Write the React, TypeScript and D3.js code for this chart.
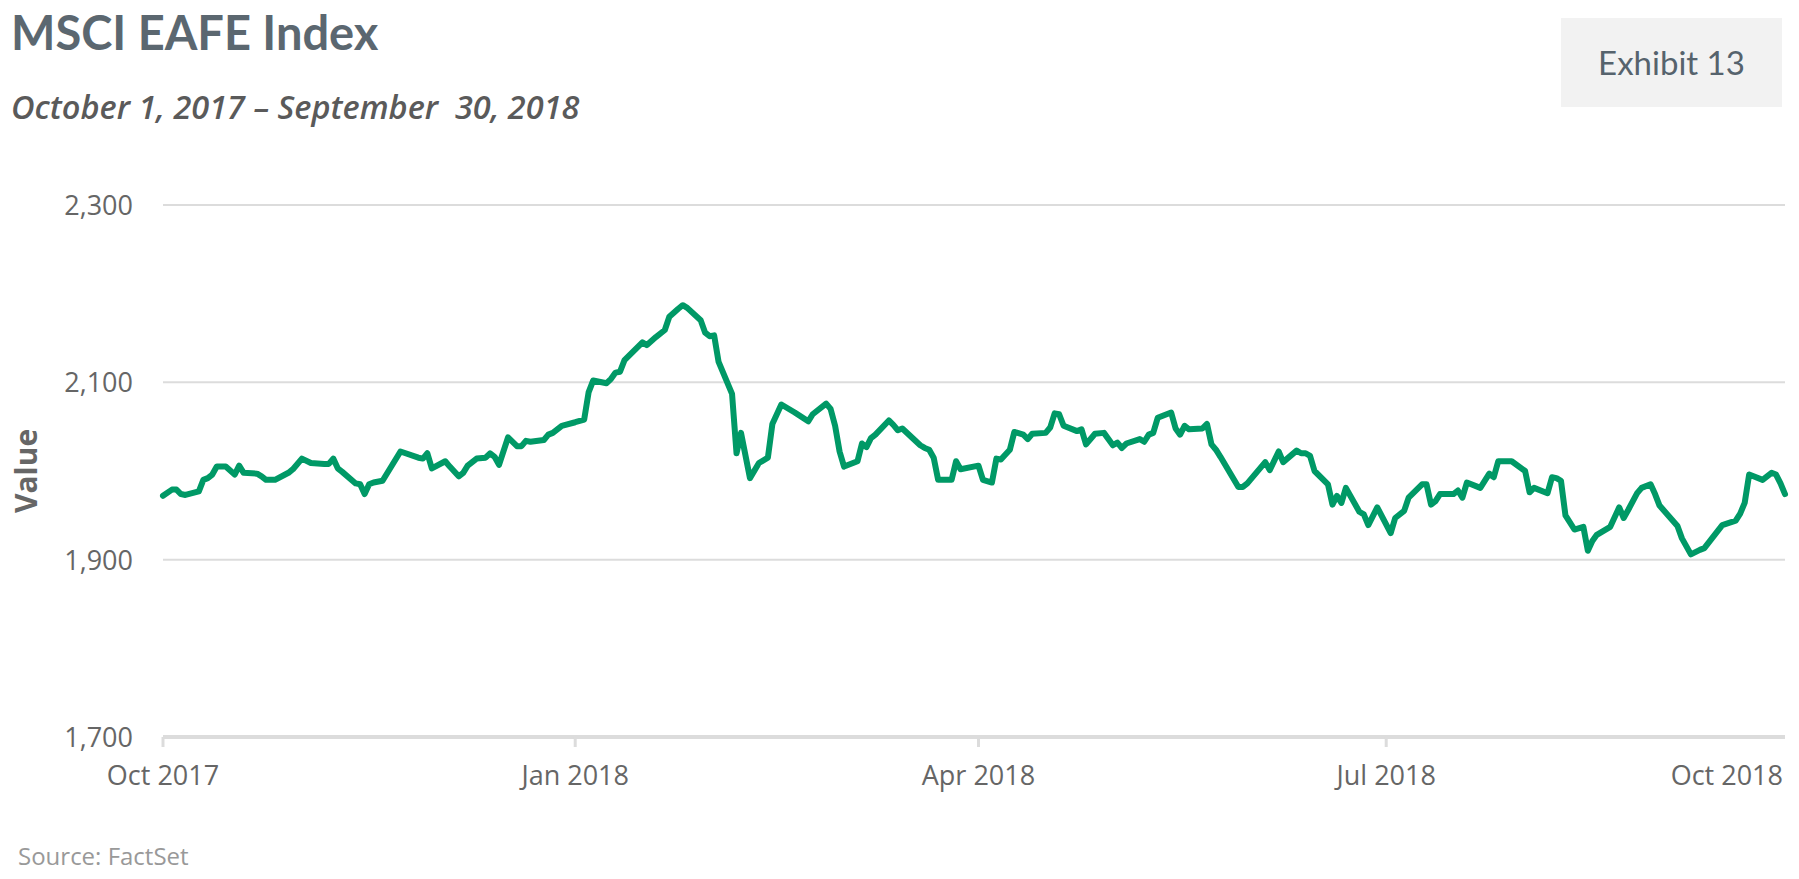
import React from "react";
import * as d3 from "d3";

// ---- Data ----
const dates: string[] = [
  "2017-10-01","2017-10-03","2017-10-04","2017-10-05","2017-10-06","2017-10-09","2017-10-10","2017-10-11","2017-10-12","2017-10-13",
  "2017-10-15","2017-10-17","2017-10-18","2017-10-19","2017-10-22","2017-10-23","2017-10-24","2017-10-26","2017-10-29","2017-10-30",
  "2017-11-01","2017-11-03","2017-11-06","2017-11-07","2017-11-08","2017-11-09","2017-11-10","2017-11-13","2017-11-14","2017-11-15",
  "2017-11-16","2017-11-17","2017-11-19","2017-11-23","2017-11-27","2017-11-28","2017-11-29","2017-11-30","2017-12-03","2017-12-04",
  "2017-12-06","2017-12-07","2017-12-08","2017-12-10","2017-12-12","2017-12-13","2017-12-14","2017-12-15","2017-12-17","2017-12-19",
  "2017-12-20","2017-12-21","2017-12-22","2017-12-25","2017-12-26","2017-12-27","2017-12-29","2018-01-01","2018-01-03","2018-01-04",
  "2018-01-05","2018-01-08","2018-01-09","2018-01-10","2018-01-11","2018-01-12","2018-01-16","2018-01-17","2018-01-19","2018-01-21",
  "2018-01-22","2018-01-24","2018-01-25","2018-01-26","2018-01-29","2018-01-30","2018-01-31","2018-02-01","2018-02-02","2018-02-05",
  "2018-02-06","2018-02-07","2018-02-09","2018-02-11","2018-02-13","2018-02-14","2018-02-16","2018-02-19","2018-02-22","2018-02-23",
  "2018-02-26","2018-02-27","2018-02-28","2018-03-01","2018-03-02","2018-03-05","2018-03-06","2018-03-07","2018-03-08","2018-03-09",
  "2018-03-12","2018-03-13","2018-03-14","2018-03-15","2018-03-19","2018-03-20","2018-03-21","2018-03-22","2018-03-23","2018-03-26",
  "2018-03-27","2018-03-28","2018-04-01","2018-04-02","2018-04-04","2018-04-05","2018-04-06","2018-04-08","2018-04-09","2018-04-11",
  "2018-04-12","2018-04-13","2018-04-16","2018-04-17","2018-04-18","2018-04-19","2018-04-20","2018-04-23","2018-04-24","2018-04-25",
  "2018-04-27","2018-04-29","2018-05-01","2018-05-02","2018-05-03","2018-05-04","2018-05-07","2018-05-08","2018-05-09","2018-05-10",
  "2018-05-11","2018-05-14","2018-05-15","2018-05-16","2018-05-17","2018-05-18","2018-05-21","2018-05-22","2018-05-23","2018-05-24",
  "2018-05-25","2018-05-29","2018-05-30","2018-05-31","2018-06-04","2018-06-05","2018-06-07","2018-06-08","2018-06-11","2018-06-12",
  "2018-06-13","2018-06-14","2018-06-15","2018-06-18","2018-06-19","2018-06-20","2018-06-21","2018-06-22","2018-06-25","2018-06-26",
  "2018-06-27","2018-06-29","2018-07-02","2018-07-03","2018-07-05","2018-07-06","2018-07-09","2018-07-10","2018-07-11","2018-07-12",
  "2018-07-13","2018-07-16","2018-07-17","2018-07-18","2018-07-19","2018-07-22","2018-07-24","2018-07-25","2018-07-26","2018-07-29",
  "2018-08-01","2018-08-02","2018-08-03","2018-08-06","2018-08-07","2018-08-08","2018-08-09","2018-08-10","2018-08-12","2018-08-14",
  "2018-08-15","2018-08-16","2018-08-17","2018-08-20","2018-08-22","2018-08-23","2018-08-24","2018-08-26","2018-08-27","2018-08-29",
  "2018-08-30","2018-08-31","2018-09-04","2018-09-05","2018-09-06","2018-09-07","2018-09-09","2018-09-10","2018-09-14","2018-09-17",
  "2018-09-18","2018-09-19","2018-09-20","2018-09-23","2018-09-25","2018-09-26","2018-09-27","2018-09-28"
];

const values: number[] = [
  1972,1979,1979,1974,1973,1977,1990,1992,1996,2005,
  2005,1996,2006,1998,1997,1994,1990,1990,1998,2002,
  2014,2009,2008,2008,2014,2003,1999,1986,1985,1974,
  1985,1987,1989,2022,2015,2014,2020,2003,2011,2005,
  1994,1998,2006,2014,2015,2020,2016,2007,2038,2028,
  2028,2034,2033,2035,2041,2043,2051,2055,2058,2089,
  2102,2099,2104,2111,2112,2125,2145,2142,2151,2159,
  2174,2183,2187,2184,2170,2156,2152,2153,2123,2087,
  2020,2043,1992,2009,2015,2053,2075,2066,2056,2064,
  2076,2070,2051,2022,2005,2011,2031,2027,2037,2041,
  2057,2052,2046,2048,2029,2026,2024,2015,1990,1990,
  2011,2002,2006,1990,1987,2014,2013,2024,2044,2041,
  2036,2042,2043,2049,2065,2064,2051,2045,2047,2030,
  2042,2043,2029,2032,2026,2031,2036,2033,2041,2043,
  2060,2066,2048,2041,2051,2047,2048,2053,2030,2024,
  2016,1982,1982,1986,2010,2001,2022,2010,2023,2020,
  2020,2017,2000,1985,1962,1972,1964,1981,1954,1951,
  1939,1959,1930,1947,1955,1970,1985,1985,1962,1966,
  1974,1974,1978,1970,1987,1981,1997,1993,2011,2011,
  2000,1976,1981,1975,1993,1992,1989,1950,1934,1937,
  1910,1921,1928,1937,1959,1947,1956,1975,1981,1985,
  1974,1961,1938,1924,1915,1906,1911,1913,1939,1944,
  1952,1964,1996,1990,1998,1996,1986,1974
];

const yTicks: number[] = [1700, 1900, 2100, 2300];
const xTickDates: string[] = ["2017-10-01", "2018-01-01", "2018-04-01", "2018-07-01", "2018-10-01"];

const title = "MSCI EAFE Index";
const subtitle = "October 1, 2017 – September\u00A0 30, 2018";
const exhibit = "Exhibit 13";
const yAxisTitle = "Value";
const source = "Source: FactSet";

// ---- Layout ----
const W = 1799;
const H = 879;
const left = 163;
const right = 1785;
const top = 205;
const bottom = 737;

const parse = d3.utcParse("%Y-%m-%d");
const fmt = d3.utcFormat("%b %Y");

export default function App() {
  const points = dates.map((d, i) => ({ date: parse(d) as Date, value: values[i] }));
  const x = d3
    .scaleUtc()
    .domain(d3.extent(points, (p) => p.date) as [Date, Date])
    .range([left, right]);
  const y = d3.scaleLinear().domain([1700, 2300]).range([bottom, top]);

  const line = d3
    .line<{ date: Date; value: number }>()
    .x((p) => x(p.date))
    .y((p) => y(p.value))
    .curve(d3.curveLinear);

  const labelFont = "'Open Sans', 'Noto Sans', sans-serif";

  return (
    <svg
      width={W}
      height={H}
      viewBox={`0 0 ${W} ${H}`}
      style={{ position: "absolute", left: 0, top: 0, background: "#fff" }}
    >
      <rect x={0} y={0} width={W} height={H} fill="#ffffff" />
      {/* Title */}
      <text x={11} y={50} fontFamily="Lato, 'Open Sans', sans-serif" fontWeight={700} fontSize={47} fill="#5b6770">
        {title}
      </text>
      <text x={11} y={119} fontFamily={labelFont} fontStyle="italic" fontWeight={600} fontSize={32.5} fill="#5a5a5a" style={{ whiteSpace: "pre" }}>
        {subtitle}
      </text>

      {/* Exhibit box */}
      <rect x={1561} y={18} width={221} height={89} fill="#f2f2f2" />
      <text x={1671.5} y={75} textAnchor="middle" fontFamily="Lato, 'Open Sans', sans-serif" fontSize={33} fill="#56636d">
        {exhibit}
      </text>

      {/* Gridlines */}
      {yTicks.filter((t) => t !== 1700).map((t) => (
        <line key={t} x1={left} x2={right} y1={y(t)} y2={y(t)} stroke="#dcdcdc" strokeWidth={2} />
      ))}

      {/* Y tick labels */}
      {yTicks.map((t) => (
        <text
          key={`yl${t}`}
          x={133}
          y={y(t) + 10}
          textAnchor="end"
          fontFamily={labelFont}
          fontSize={27}
          fill="#666666"
        >
          {d3.format(",")(t)}
        </text>
      ))}

      {/* Y axis title */}
      <text
        transform={`translate(37, ${(top + bottom) / 2}) rotate(-90)`}
        textAnchor="middle"
        fontFamily={labelFont}
        fontWeight={700}
        fontSize={30}
        fill="#666666"
      >
        {yAxisTitle}
      </text>

      {/* X axis line */}
      <line x1={left} x2={right} y1={bottom} y2={bottom} stroke="#dcdcdc" strokeWidth={4} />

      {/* X ticks and labels */}
      {xTickDates.map((s) => {
        const d = parse(s) as Date;
        const px = x(d);
        const inside = px <= right + 0.5;
        const lx = inside ? px : right - 2;
        return (
          <g key={s}>
            {inside && (
              <line x1={px} x2={px} y1={bottom} y2={bottom + 10} stroke="#dcdcdc" strokeWidth={3} />
            )}
            <text
              x={lx}
              y={785}
              textAnchor={inside ? "middle" : "end"}
              fontFamily={labelFont}
              fontSize={27}
              fill="#666666"
            >
              {fmt(d)}
            </text>
          </g>
        );
      })}

      {/* Series line */}
      <path
        d={line(points) || ""}
        fill="none"
        stroke="#009966"
        strokeWidth={6}
        strokeLinejoin="round"
        strokeLinecap="round"
      />

      {/* Source */}
      <text x={18} y={865} fontFamily={labelFont} fontSize={24} fill="#999999">
        {source}
      </text>
    </svg>
  );
}
